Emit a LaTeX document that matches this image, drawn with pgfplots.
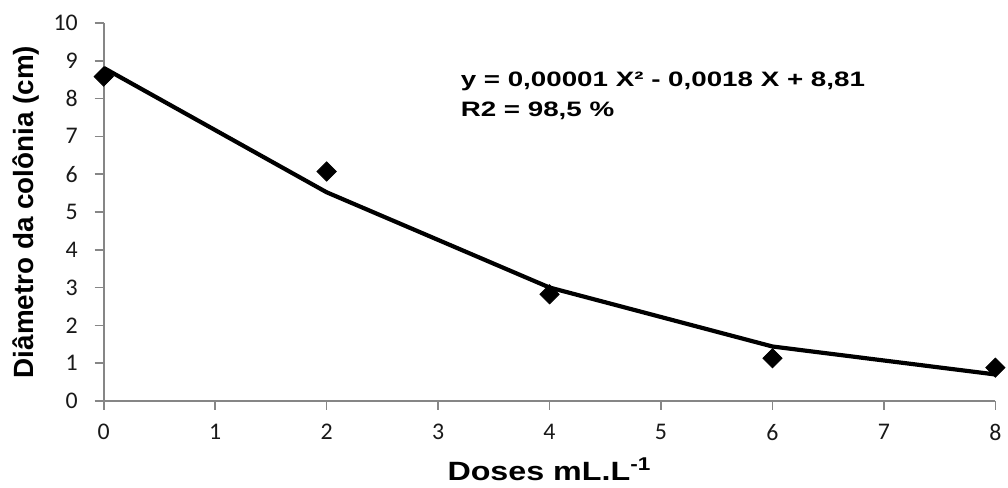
\documentclass[border=0pt]{standalone}
\usepackage{fontspec}
\setmainfont{Liberation Sans}
\newfontfamily\tickfont{Carlito}
\usepackage{graphicx}
\usepackage{pgfplots}
\pgfplotsset{compat=1.18}
\definecolor{axgray}{RGB}{134,134,134}
\definecolor{ticktext}{RGB}{25,25,25}

\begin{document}
\begin{tikzpicture}
\begin{axis}[
    scale only axis,
    width=447bp, height=189.5bp,
    xmin=0, xmax=8, ymin=0, ymax=10,
    xtick={0,1,...,8}, ytick={0,1,...,10},
    axis lines*=left,
    axis line style={axgray, line width=0.8pt},
    tick style={axgray, line width=0.8pt},
    tick align=outside,
    major tick length=4.5bp,
    /pgf/number format/assume math mode=true,
    ticklabel style={font=\tickfont\fontsize{12}{14}\selectfont, text=ticktext},
    xticklabel style={yshift=-3.5bp},
    yticklabel style={xshift=-5bp},
    xlabel={\scalebox{1.22}[1]{\bfseries\fontsize{13.3}{15}\selectfont Doses mL.L\textsuperscript{-1}}},
    ylabel={\bfseries\fontsize{14}{16}\selectfont Diâmetro da colônia (cm)},
    xlabel style={at={(axis description cs:0.5,-0.211)}, anchor=base},
    ylabel style={at={(axis description cs:-0.087,0.5)}, anchor=center},
    clip=false,
]

%% observed means
\addplot[only marks, mark=square*, mark size=3.4bp,
    mark options={rotate=45, fill=black, draw=black}]
coordinates {(0,8.58)(2,6.07)(4,2.82)(6,1.13)(8,0.88)};

%% fitted curve
\addplot[black, line width=2.1bp, line join=round] coordinates {
    (0,8.81)(2,5.52)(4,3.00)(6,1.44)(8,0.70)
};

\node[anchor=north west, align=left, inner sep=0pt]
    at (axis cs:3.2,8.72)
    {\scalebox{1.33}[1]{\bfseries\fontsize{10.5}{12}\selectfont y = 0,00001 X² - 0,0018 X + 8,81}\\[3.2bp]
     \scalebox{1.33}[1]{\bfseries\fontsize{10.5}{12}\selectfont R2 = 98,5 \%}};

% page margins as in the reference
\path (axis description cs:0,0) ++(-52bp,-41bp) coordinate (bl);
\path (axis description cs:1,1) ++(5bp,11.5bp) coordinate (tr);
\end{axis}
\path (bl) (tr);
\end{tikzpicture}
\end{document}
